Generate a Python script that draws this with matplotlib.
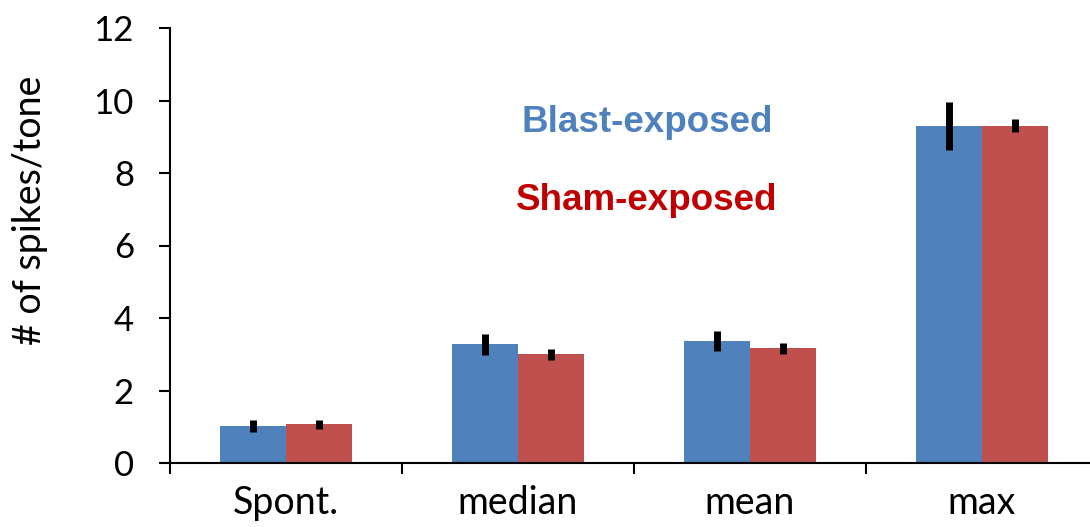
import matplotlib
matplotlib.use("Agg")
import matplotlib.pyplot as plt
import numpy as np

categories = ["Spont.", "median", "mean", "max"]
blast_vals = [1.03, 3.27, 3.37, 9.30]
blast_err = [0.17, 0.29, 0.28, 0.66]
sham_vals = [1.07, 3.00, 3.16, 9.30]
sham_err = [0.12, 0.15, 0.14, 0.18]
yticks = [0, 2, 4, 6, 8, 10, 12]

blue = "#4F81BD"
red = "#C0504D"

fig = plt.figure(figsize=(10.9, 5.27), dpi=100)
ax = fig.add_axes([170/1090, 64/527, 928/1090, 435/527])

x = np.arange(len(categories))
w = 0.285
ax.bar(x - w/2, blast_vals, width=w, color=blue, zorder=2)
ax.bar(x + w/2, sham_vals, width=w, color=red, zorder=2)
ax.errorbar(x - w/2, blast_vals, yerr=blast_err, fmt="none", ecolor="black",
            elinewidth=5, capsize=0, zorder=3)
ax.errorbar(x + w/2, sham_vals, yerr=sham_err, fmt="none", ecolor="black",
            elinewidth=5, capsize=0, zorder=3)

ax.set_xlim(-0.5, len(categories) - 0.5)
ax.set_ylim(0, 12)
ax.set_yticks(yticks)
ax.set_yticklabels([str(v) for v in yticks], fontfamily="Lato", fontsize=25)

ax.set_xticks(np.arange(len(categories) + 1) - 0.5)
ax.set_xticklabels([])
ax.set_xticks(x, minor=True)
ax.set_xticklabels(categories, minor=True, fontfamily="Lato", fontsize=27)
ax.tick_params(axis="x", which="minor", length=0, pad=16)
ax.tick_params(axis="x", which="major", length=8, width=1.5, direction="out")
ax.tick_params(axis="y", length=8, width=1.5, direction="out", pad=18)

for s in ["top", "right"]:
    ax.spines[s].set_visible(False)
for s in ["left", "bottom"]:
    ax.spines[s].set_linewidth(1.5)

fig.text(30/1090, 1 - 210/527, "# of spikes/tone", rotation=90, ha="center",
         va="center", fontfamily="Lato", fontsize=27)

fig.text(647/1090, 1 - 122/527, "Blast-exposed", color=blue, ha="center",
         va="center", fontfamily="Liberation Sans", fontweight="bold", fontsize=26.5)
fig.text(647/1090, 1 - 200/527, "Sham-exposed", color="#C00000", ha="center",
         va="center", fontfamily="Liberation Sans", fontweight="bold", fontsize=26.5)

fig.savefig("out.png", dpi=100)
